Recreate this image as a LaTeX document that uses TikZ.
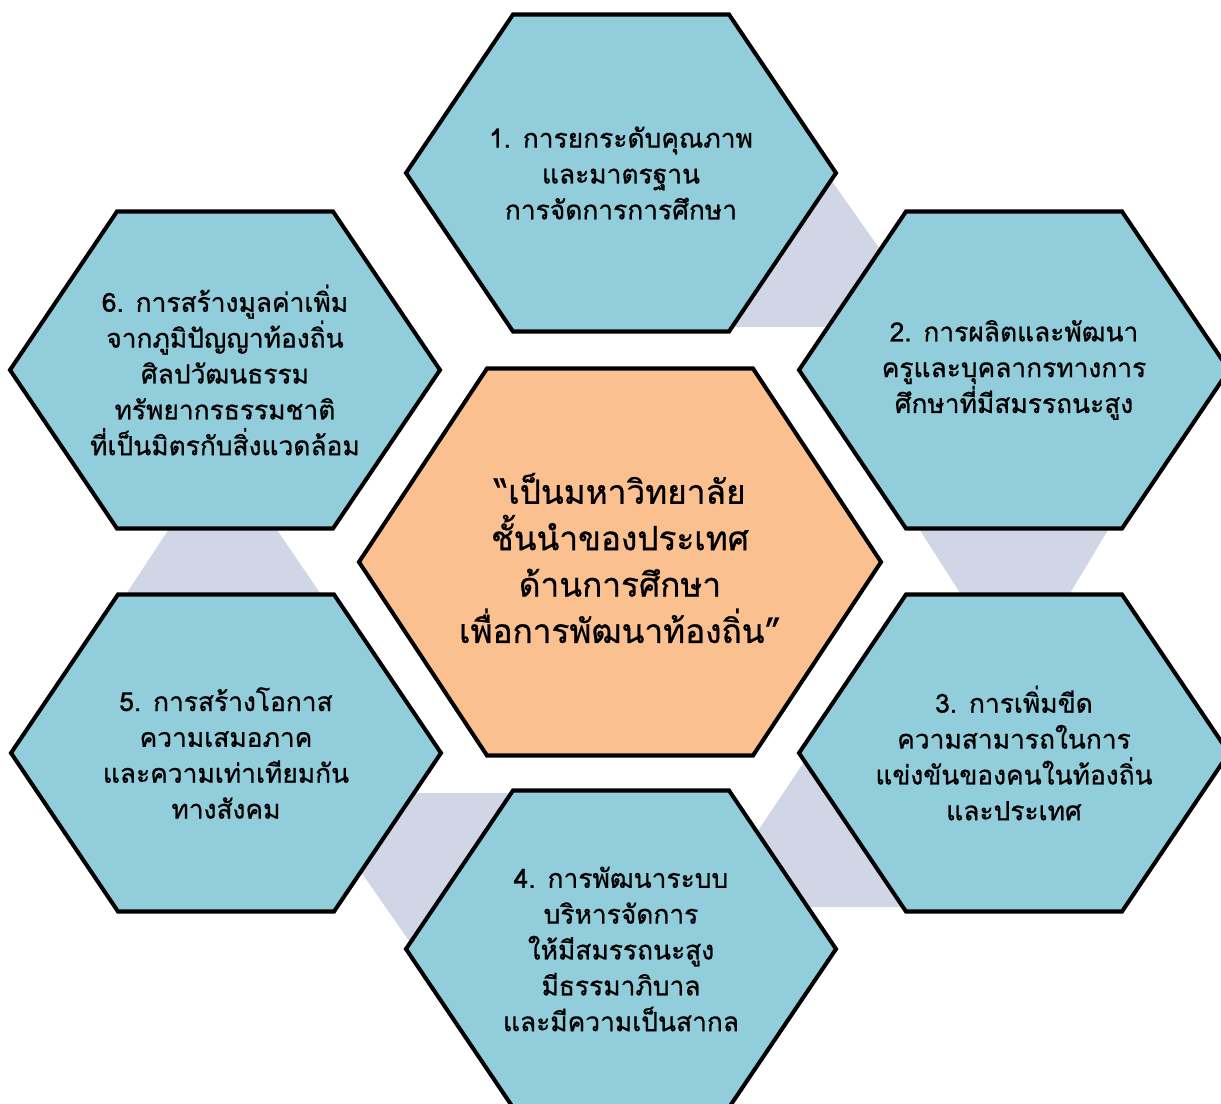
\documentclass[tikz,border=0pt]{standalone}
\usepackage{fontspec}
\newfontfamily\thaifont[Script=Thai,FakeBold=0.8]{Loma}
\usetikzlibrary{calc}
\definecolor{hexblue}{HTML}{92CDDC}
\definecolor{hexorange}{HTML}{FAC090}
\definecolor{linkgray}{HTML}{D0D6E6}
\tikzset{
  hexline/.style={draw=black, line width=2.3pt, line join=miter},
  outerhex/.style={hexline, fill=hexblue},
  corehex/.style={hexline, fill=hexorange},
  linkband/.style={fill=linkgray, draw=none},
  outertext/.style={font=\thaifont\fontsize{15}{20.4}\selectfont, align=center, text=black, inner sep=0pt},
  coretext/.style={font=\thaifont\fontsize{19}{26.4}\selectfont, align=center, text=black, inner sep=0pt},
  pics/hexa/.style args={#1/#2/#3}{code={
    \path[pic actions] (-#1,0) -- (-#2,-#3) -- (#2,-#3) -- (#1,0) -- (#2,#3) -- (-#2,#3) -- cycle;
  }}
}
\begin{document}
\begin{tikzpicture}[x=0.02cm, y=-0.02cm]
\useasboundingbox (0,0) rectangle (1221,1104);
\fill[white] (0,0) rectangle (1221,1104);
\clip (0,0) rectangle (1221,1104);
% centres
\coordinate (c0) at (620,562);
\coordinate (c1) at (621,173);
\coordinate (c2) at (1014,370);
\coordinate (c3) at (1014,753);
\coordinate (c4) at (621,949);
\coordinate (c5) at (226,753);
\coordinate (c6) at (225,370);
% connecting bands (behind the hexagons)
\fill[linkband] (826,173) -- (935,327) -- (724,327) -- cycle;            % 1 -> 2
\fill[linkband] (888,480) -- (1138,480) -- (1042,640) -- (990,640) -- cycle; % 2 -> 3
\fill[linkband] (810,753) -- (920,907) -- (707,907) -- cycle;            % 3 -> 4
\fill[linkband] (306,793) -- (530,793) -- (414,948) -- cycle;            % 4 -> 5
\fill[linkband] (201,480) -- (243,480) -- (352,640) -- (96,640) -- cycle; % 5 -> 6
% hexagons
\pic[corehex] at (c0) {hexa=261/133/193.5};
\foreach \i in {1,...,6} {\pic[outerhex] at (c\i) {hexa=215/108/158.5};}
% texts
\node[coretext] (n0) at ($(c0)+(0,-4)$) {“เป็นมหาวิทยาลัย\\ชั้นนำของประเทศ\\ด้านการศึกษา\\เพื่อการพัฒนาท้องถิ่น”};
\node[outertext] (n1) at (c1) {1. การยกระดับคุณภาพ\\และมาตรฐาน\\การจัดการการศึกษา};
\node[outertext] (n2) at (c2) {2. การผลิตและพัฒนา\\ครูและบุคลากรทางการ\\ศึกษาที่มีสมรรถนะสูง};
\node[outertext] (n3) at (c3) {3. การเพิ่มขีด\\ความสามารถในการ\\แข่งขันของคนในท้องถิ่น\\และประเทศ};
\node[outertext] (n4) at (c4) {4. การพัฒนาระบบ\\บริหารจัดการ\\ให้มีสมรรถนะสูง\\มีธรรมาภิบาล\\และมีความเป็นสากล};
\node[outertext] (n5) at (c5) {5. การสร้างโอกาส\\ความเสมอภาค\\และความเท่าเทียมกัน\\ทางสังคม};
\node[outertext] (n6) at (c6) {6. การสร้างมูลค่าเพิ่ม\\จากภูมิปัญญาท้องถิ่น\\ศิลปวัฒนธรรม\\ทรัพยากรธรรมชาติ\\ที่เป็นมิตรกับสิ่งแวดล้อม};
\end{tikzpicture}
\end{document}
